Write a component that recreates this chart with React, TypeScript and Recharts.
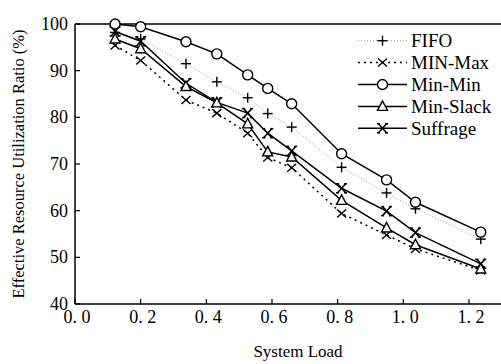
import React from 'react';
import { LineChart, Line, XAxis, YAxis, ReferenceLine } from 'recharts';

const loads = [0.122, 0.2, 0.338, 0.432, 0.526, 0.587, 0.66, 0.812, 0.949, 1.037, 1.236];
const fifo = [98.2, 96.8, 91.5, 87.6, 84.2, 80.8, 77.9, 69.3, 63.8, 60.4, 53.9];
const minMax = [95.4, 92.2, 83.7, 80.9, 76.6, 71.4, 69.2, 59.4, 54.8, 51.8, 47.2];
const minMin = [100, 99.4, 96.2, 93.6, 89.1, 86.2, 82.9, 72.2, 66.6, 61.8, 55.4];
const minSlack = [96.8, 94.7, 86.6, 83.1, 78.6, 72.6, 71.5, 62.2, 56.3, 52.7, 47.5];
const suffrage = [98.4, 96.3, 87.3, 83.2, 80.9, 76.6, 72.8, 64.8, 59.9, 55.3, 48.6];

const xTicks = [0, 0.2, 0.4, 0.6, 0.8, 1.0, 1.2];
const yTicks = [40, 50, 60, 70, 80, 90, 100];

const data = loads.map((load, i) => ({
  load,
  fifo: fifo[i],
  minMax: minMax[i],
  minMin: minMin[i],
  minSlack: minSlack[i],
  suffrage: suffrage[i],
}));

const FONT = '"Liberation Serif", "Times New Roman", serif';
const txt = { fontFamily: FONT, fill: '#000' };

type Shape = 'plus' | 'cross' | 'circle' | 'triangle' | 'star';

const Marker = ({ cx, cy, shape }: { cx: number; cy: number; shape: Shape }) => {
  const s = { stroke: '#000', strokeWidth: 1.4, fill: '#fff' };
  switch (shape) {
    case 'plus':
      return (
        <g {...s}>
          <line x1={cx - 5} x2={cx + 5} y1={cy} y2={cy} />
          <line x1={cx} x2={cx} y1={cy - 5} y2={cy + 5} />
        </g>
      );
    case 'cross':
      return (
        <g {...s}>
          <line x1={cx - 4.5} x2={cx + 4.5} y1={cy - 4} y2={cy + 4} />
          <line x1={cx - 4.5} x2={cx + 4.5} y1={cy + 4} y2={cy - 4} />
        </g>
      );
    case 'circle':
      return <circle cx={cx} cy={cy} r={5} {...s} />;
    case 'triangle':
      return (
        <polygon points={`${cx},${cy - 5.5} ${cx - 5},${cy + 4} ${cx + 5},${cy + 4}`} {...s} />
      );
    case 'star':
      // x with small serif caps on each arm
      return (
        <g stroke="#000" strokeWidth={1.6}>
          <line x1={cx - 4} x2={cx + 4} y1={cy - 4.5} y2={cy + 4.5} />
          <line x1={cx - 4} x2={cx + 4} y1={cy + 4.5} y2={cy - 4.5} />
          <line x1={cx - 5.5} x2={cx - 2.5} y1={cy - 4.5} y2={cy - 4.5} />
          <line x1={cx + 2.5} x2={cx + 5.5} y1={cy - 4.5} y2={cy - 4.5} />
          <line x1={cx - 5.5} x2={cx - 2.5} y1={cy + 4.5} y2={cy + 4.5} />
          <line x1={cx + 2.5} x2={cx + 5.5} y1={cy + 4.5} y2={cy + 4.5} />
        </g>
      );
  }
  return null;
};

const makeDot = (shape: Shape) => (props: any) => (
  <Marker key={`${shape}-${props.index}`} cx={props.cx} cy={props.cy} shape={shape} />
);

const series = [
  { key: 'fifo', name: 'FIFO', shape: 'plus' as Shape, stroke: '#999', width: 1, dash: '1 2' },
  { key: 'minMax', name: 'MIN-Max', shape: 'cross' as Shape, stroke: '#000', width: 1.5, dash: '2 4' },
  { key: 'minMin', name: 'Min-Min', shape: 'circle' as Shape, stroke: '#000', width: 1.5, dash: undefined },
  { key: 'minSlack', name: 'Min-Slack', shape: 'triangle' as Shape, stroke: '#000', width: 1.5, dash: undefined },
  { key: 'suffrage', name: 'Suffrage', shape: 'star' as Shape, stroke: '#000', width: 1.5, dash: undefined },
];

// draw order: dotted ones underneath
const drawOrder = ['fifo', 'minMax', 'suffrage', 'minSlack', 'minMin'];

const XTick = ({ x, y, payload }: any) => (
  <g>
    <line x1={x} x2={x} y1={y} y2={y - 5} stroke="#000" strokeWidth={1.2} />
    <text x={x + 2} y={y + 19} textAnchor="middle" fontSize={18} style={txt}>
      {payload.value.toFixed(1).replace('.', '. ')}
    </text>
  </g>
);

const YTick = ({ x, y, payload }: any) => (
  <g>
    <line x1={x} x2={x + 5} y1={y} y2={y} stroke="#000" strokeWidth={1.2} />
    <text x={x - 7} y={y + 6} textAnchor="end" fontSize={18} style={txt}>
      {payload.value}
    </text>
  </g>
);

const ChartLegend = () => (
  <svg width={146} height={112} style={{ position: 'absolute', left: 355, top: 28 }}>
    {series.map((s, i) => {
      const y = 12.7 + i * 21.9;
      return (
        <g key={s.key}>
          <line x1={3} x2={52} y1={y} y2={y} stroke={s.stroke} strokeWidth={s.width} strokeDasharray={s.dash} />
          <Marker cx={27.5} cy={y} shape={s.shape} />
          <text x={56} y={y + 6.5} fontSize={19} style={txt}>
            {s.name}
          </text>
        </g>
      );
    })}
  </svg>
);

export default function App() {
  return (
    <div style={{ position: 'absolute', left: 0, top: 0, width: 501, height: 364, background: '#fff' }}>
      <LineChart width={501} height={364} data={data} margin={{ top: 24, right: 0, bottom: 0, left: 0 }}>
        <XAxis
          dataKey="load"
          type="number"
          domain={[0, 1.2976]}
          ticks={xTicks}
          allowDataOverflow
          height={60}
          tickSize={0}
          tickMargin={0}
          tickLine={false}
          tick={<XTick />}
          axisLine={{ stroke: '#000', strokeWidth: 1.5 }}
          label={{
            content: () => (
              <text x={298} y={357} textAnchor="middle" fontSize={17} style={txt}>
                System Load
              </text>
            ),
          }}
        />
        <YAxis
          type="number"
          domain={[40, 100]}
          ticks={yTicks}
          width={75}
          tickSize={0}
          tickMargin={0}
          tickLine={false}
          tick={<YTick />}
          axisLine={{ stroke: '#000', strokeWidth: 1.5 }}
          label={{
            content: () => (
              <text
                x={18}
                y={164}
                transform="rotate(-90 18 164)"
                textAnchor="middle"
                dominantBaseline="central"
                fontSize={16.5}
                style={txt}
              >
                Effective Resource Utilization Ratio (%)
              </text>
            ),
          }}
        />
        <ReferenceLine y={100} stroke="#000" strokeWidth={1.5} />
        {drawOrder.map((k) => {
          const s = series.find((x) => x.key === k)!;
          return (
            <Line
              key={s.key}
              dataKey={s.key}
              name={s.name}
              type="linear"
              stroke={s.stroke}
              strokeWidth={s.width}
              strokeDasharray={s.dash}
              dot={makeDot(s.shape)}
              activeDot={false}
              isAnimationActive={false}
            />
          );
        })}
      </LineChart>
      <ChartLegend />
    </div>
  );
}
